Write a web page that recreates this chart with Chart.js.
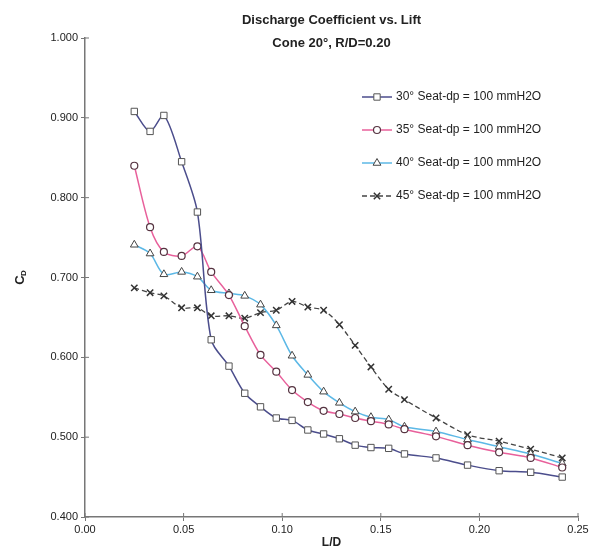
<!DOCTYPE html>
<html>
<head>
<meta charset="utf-8">
<script src="https://cdn.jsdelivr.net/npm/chart.js@4"></script>
<style>
  body { margin: 0; background: #fff; }
</style>
</head>
<body>
<canvas id="cdCanvas" width="603" height="554"></canvas>
<script>
  // L/D values shared by all four runs
  var liftRatio = [0.025, 0.033, 0.040, 0.049, 0.057, 0.064, 0.073, 0.081, 0.089, 0.097, 0.105, 0.113,
                   0.121, 0.129, 0.137, 0.145, 0.154, 0.162, 0.178, 0.194, 0.210, 0.226, 0.242];

  var seat30 = [0.908, 0.883, 0.903, 0.845, 0.782, 0.622, 0.589, 0.555, 0.538, 0.524, 0.521, 0.509,
                0.504, 0.498, 0.490, 0.487, 0.486, 0.479, 0.474, 0.465, 0.458, 0.456, 0.450];
  var seat35 = [0.840, 0.763, 0.732, 0.727, 0.739, 0.707, 0.678, 0.639, 0.603, 0.582, 0.559, 0.544,
                0.533, 0.529, 0.524, 0.520, 0.516, 0.510, 0.501, 0.490, 0.481, 0.474, 0.462];
  var seat40 = [0.741, 0.730, 0.704, 0.707, 0.701, 0.684, 0.680, 0.677, 0.666, 0.640, 0.602, 0.578,
                0.557, 0.543, 0.532, 0.525, 0.522, 0.513, 0.507, 0.497, 0.488, 0.479, 0.467];
  var seat45 = [0.687, 0.681, 0.677, 0.662, 0.662, 0.652, 0.652, 0.649, 0.656, 0.659, 0.670, 0.663,
                0.659, 0.641, 0.615, 0.588, 0.560, 0.547, 0.524, 0.503, 0.495, 0.485, 0.474];

  var seriesNames = ['30\u00b0 Seat-dp = 100 mmH2O', '35\u00b0 Seat-dp = 100 mmH2O',
                     '40\u00b0 Seat-dp = 100 mmH2O', '45\u00b0 Seat-dp = 100 mmH2O'];
  var titleLines = ['Discharge Coefficient vs. Lift', 'Cone 20\u00b0, R/D=0.20'];

  function pts(vals) {
    return vals.map(function (v, i) { return {x: liftRatio[i], y: v}; });
  }

  var FONT = '"Liberation Sans", Arial, sans-serif';

  // title, legend, inner tick marks and the C_D label are painted by hand
  var extras = {
    id: 'extras',
    afterDraw: function (chart) {
      var c = chart.ctx;
      var area = chart.chartArea;
      var mid = (area.left + area.right) / 2;
      c.save();

      // ticks cross the axis lines, so add the inner half
      c.strokeStyle = '#777';
      c.lineWidth = 1;
      chart.scales.x.ticks.forEach(function (t) {
        var px = chart.scales.x.getPixelForValue(t.value);
        c.beginPath(); c.moveTo(px, area.bottom); c.lineTo(px, area.bottom - 4); c.stroke();
      });
      chart.scales.y.ticks.forEach(function (t) {
        var py = chart.scales.y.getPixelForValue(t.value);
        c.beginPath(); c.moveTo(area.left, py); c.lineTo(area.left + 4, py); c.stroke();
      });

      c.fillStyle = '#222';
      c.textAlign = 'center';
      c.textBaseline = 'middle';
      c.font = 'bold 13px ' + FONT;
      c.fillText(titleLines[0], mid, 20);
      c.fillText(titleLines[1], mid, 43);

      // legend
      var rows = [97, 130, 163, 196];
      chart.data.datasets.forEach(function (ds, i) {
        var y = rows[i];
        c.strokeStyle = ds.borderColor;
        c.lineWidth = 1.5;
        c.setLineDash(ds.borderDash || []);
        c.beginPath();
        c.moveTo(362, y);
        c.lineTo(392, y);
        c.stroke();
        c.setLineDash([]);
        c.fillStyle = ds.pointBackgroundColor;
        c.strokeStyle = ds.pointBorderColor;
        c.lineWidth = ds.pointBorderWidth;
        Chart.helpers.drawPoint(c, {
          pointStyle: ds.pointStyle, radius: ds.pointRadius, rotation: 0, borderWidth: ds.pointBorderWidth
        }, 377, y);
        c.fillStyle = '#222';
        c.textAlign = 'left';
        c.font = '12px ' + FONT;
        c.fillText(ds.label, 396, y);
      });

      // y axis title: C with subscript D
      c.translate(20, 278);
      c.rotate(-Math.PI / 2);
      c.textAlign = 'center';
      c.font = 'bold 13px ' + FONT;
      c.fillText('C', -2, 0);
      c.font = 'bold 8px ' + FONT;
      c.fillText('D', 5, 4);
      c.restore();
    }
  };

  var ctx = document.getElementById('cdCanvas').getContext('2d');
  var chart = new Chart(ctx, {
    type: 'line',
    data: {
      datasets: [{
        label: seriesNames[0],
        data: pts(seat30),
        borderColor: '#4b4d8c',
        borderWidth: 1.5,
        pointStyle: 'rect',
        pointRadius: 4.5,
        pointBorderColor: '#555',
        pointBackgroundColor: '#fff',
        pointBorderWidth: 1
      }, {
        label: seriesNames[1],
        data: pts(seat35),
        borderColor: '#e8609b',
        borderWidth: 1.5,
        pointStyle: 'circle',
        pointRadius: 3.5,
        pointBorderColor: '#553340',
        pointBackgroundColor: '#fff',
        pointBorderWidth: 1.2
      }, {
        label: seriesNames[2],
        data: pts(seat40),
        borderColor: '#5cb8e6',
        borderWidth: 1.5,
        pointStyle: 'triangle',
        pointRadius: 4.5,
        pointBorderColor: '#444',
        pointBackgroundColor: '#fff',
        pointBorderWidth: 1
      }, {
        label: seriesNames[3],
        data: pts(seat45),
        borderColor: '#444',
        borderWidth: 1.3,
        borderDash: [5, 3],
        pointStyle: 'crossRot',
        pointRadius: 4.5,
        pointBorderColor: '#333',
        pointBackgroundColor: '#fff',
        pointBorderWidth: 1.5
      }]
    },
    options: {
      responsive: false,
      animation: false,
      layout: {padding: {left: 0, right: 25, top: 38, bottom: 0}},
      elements: {line: {tension: 0.3}},
      plugins: {legend: {display: false}, tooltip: {enabled: false}},
      scales: {
        x: {
          type: 'linear',
          min: 0,
          max: 0.25,
          afterFit: function (s) { s.height = 37; },
          ticks: {
            stepSize: 0.05,
            color: '#222',
            font: {family: FONT, size: 11},
            padding: 2,
            callback: function (v) { return v.toFixed(2); }
          },
          grid: {drawOnChartArea: false, tickLength: 4, color: '#777'},
          border: {color: '#777', width: 1.5},
          title: {display: true, text: 'L/D', color: '#222', font: {family: FONT, size: 12, weight: 'bold'}, padding: {top: 0}}
        },
        y: {
          min: 0.4,
          max: 1.0,
          afterFit: function (s) { s.width = 85; },
          ticks: {
            stepSize: 0.1,
            color: '#222',
            font: {family: FONT, size: 11},
            padding: 3,
            callback: function (v) { return v.toFixed(3); }
          },
          grid: {drawOnChartArea: false, tickLength: 4, color: '#777'},
          border: {color: '#777', width: 1.5}
        }
      }
    },
    plugins: [extras]
  });
</script>
</body>
</html>
